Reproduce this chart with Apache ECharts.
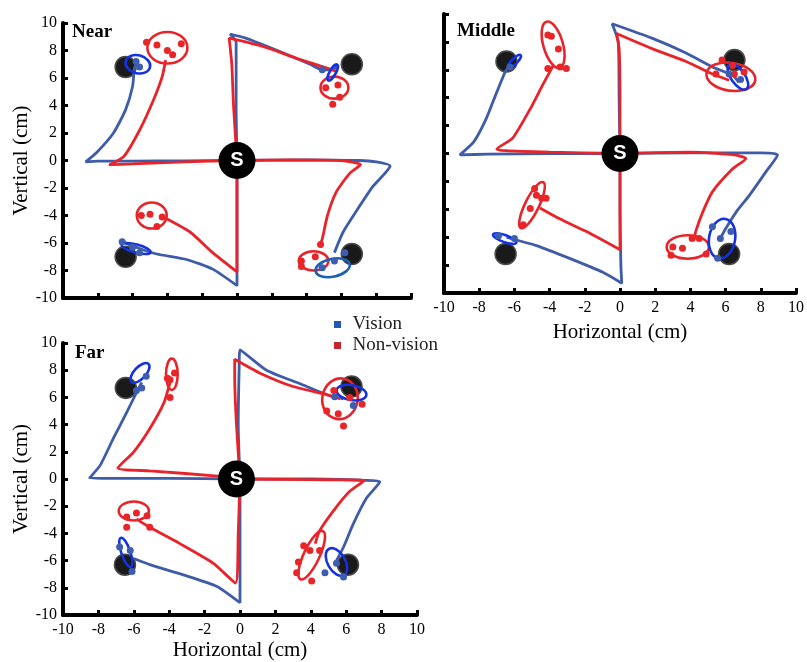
<!DOCTYPE html>
<html><head><meta charset="utf-8">
<script src="https://cdn.jsdelivr.net/npm/echarts@6/dist/echarts.min.js"></script>
<style>html,body{margin:0;padding:0;background:#fff}#c{width:807px;height:662px}</style>
</head><body><div id="c"></div>
<script>
// ---------- DATA (cm) ----------
const panelNames = ['Near', 'Middle', 'Far'];
const axisTicks = [-10, -8, -6, -4, -2, 0, 2, 4, 6, 8, 10];
const legendNames = ['Vision', 'Non-vision'];

// Near
const nearVisionPaths = [
  [[0,0],[-3,-0.02],[-6,-0.05],[-8.0,-0.05],[-8.7,-0.1],[-8.05,0.6],[-7.1,2.0],[-6.4,3.7],[-6.0,5.4],[-5.9,6.7],[-5.8,7.0]],
  [[0,0],[-0.05,4],[-0.05,8.6],[-0.4,9.2],[0.5,8.9],[2.5,7.9],[4.2,7.0],[4.9,6.6],[5.5,6.6],[5.8,6.95]],
  [[0,0],[4,0.05],[7,0],[8.0,-0.1],[8.8,-0.4],[7.8,-1.9],[6.9,-3.6],[6.1,-5.2],[5.6,-6.7]],
  [[0,0],[0,-4],[0,-7],[0,-9.1],[-1.4,-7.9],[-2.9,-7.2],[-4.6,-6.8],[-5.6,-6.4],[-6.6,-5.9]]
];
const nearNonVisionPaths = [
  [[0,0],[-3,-0.1],[-6,-0.25],[-7.3,-0.3],[-6.5,0.3],[-5.6,2.2],[-4.8,4.4],[-4.3,6.1],[-4.1,7.3]],
  [[0,0],[-0.2,4],[-0.3,7],[-0.45,8.9],[1.5,8.3],[3.5,7.4],[5.7,6.5]],
  [[0,0],[3,0.05],[6,0.0],[7.1,-0.3],[6.5,-0.9],[5.7,-2.3],[5.2,-4.0],[4.9,-5.7],[4.8,-6.1]],
  [[0,0],[0,-4],[0,-8.1],[-1.4,-6.7],[-2.7,-5.2],[-4.4,-4.0]]
];
// ellipse: [cx, cy, rx, ry, angle(deg)]
const nearVisionEllipses = [[-5.7,7.0,0.72,0.65,-15],[5.5,6.4,0.52,0.22,60],[5.5,-7.8,1.0,0.65,12],[-5.8,-6.4,0.86,0.3,-15]];
const nearNonVisionEllipses = [[-4.0,8.2,1.15,1.15,0],[5.6,5.3,0.8,0.8,0],[4.4,-7.3,0.85,0.7,0],[-4.9,-4.0,0.86,0.95,0]];
const nearVisionDots = [[-5.6,6.8],[-5.8,7.2],[4.9,6.6],[5.6,-7.3],[4.9,-7.8],[6.2,-6.7],[-5.6,-6.7],[-6.6,-5.9],[-6.0,-6.3]];
const nearNonVisionDots = [[-5.2,8.6],[-4.6,8.4],[-3.2,8.5],[-3.7,7.7],[-4.0,8.0],[5.8,5.5],[5.9,4.6],[5.5,4.1],[5.1,5.3],[4.8,-6.1],[4.5,-7.0],[3.7,-7.7],[3.7,-7.3],[-5.0,-3.9],[-5.5,-4.0],[-4.3,-4.1],[-4.6,-4.8]];
const nearTargets = [[-6.4,6.8],[6.6,7.0],[6.6,-6.8],[-6.4,-7.0]];
const nearStart = [[0,0]];

// Middle
const middleVisionPaths = [
  [[0,0],[-4,0],[-7.5,-0.05],[-9.1,-0.1],[-8.3,0.85],[-7.6,2.5],[-7.0,4.4],[-6.5,5.9],[-6.25,6.3]],
  [[0,0],[-0.05,4],[-0.1,8],[-0.45,9.3],[1.85,8.25],[3.75,7.2],[5.25,6.2],[6.4,5.6],[6.75,5.1]],
  [[0,0],[4,0.05],[8,0.05],[8.95,-0.1],[8.3,-1.3],[7.35,-3.0],[6.6,-4.2],[6.0,-5.4],[5.7,-6.1]],
  [[0,0],[0,-4],[0.05,-8],[0.1,-9.3],[-1.0,-8.5],[-2.9,-7.5],[-4.75,-6.6],[-5.9,-6.2],[-6.45,-6.0]]
];
const middleNonVisionPaths = [
  [[0,0],[-4,0.1],[-6.5,0.2],[-7.0,0.3],[-6.1,1.1],[-5.1,3.2],[-4.4,4.9],[-3.8,6.3]],
  [[0,0],[0,4],[-0.05,7.5],[-0.2,8.6],[1.85,7.5],[3.75,6.6],[5.25,5.7],[6.2,5.25]],
  [[0,0],[4,0.1],[6.5,-0.1],[7.15,-0.35],[6.4,-1.1],[5.25,-2.75],[4.7,-4.2],[4.3,-5.6],[4.2,-6.2]],
  [[0,0],[0,-4],[0,-6.9],[-1.9,-5.6],[-3.4,-4.7],[-4.55,-3.9]]
];
const middleVisionEllipses = [[-6.0,6.6,0.5,0.2,45],[6.7,5.5,0.85,0.5,-55],[5.8,-6.1,0.74,1.43,-10],[-6.55,-6.1,0.7,0.25,-20]];
const middleNonVisionEllipses = [[-3.8,7.8,1.36,0.7,-74],[6.3,5.5,1.4,1.0,-8],[3.85,-6.7,1.2,0.84,0],[-5.0,-3.7,1.45,0.5,64]];
const middleVisionDots = [[-6.25,6.2],[6.85,5.3],[6.2,5.7],[5.7,-6.1],[6.3,-5.6],[5.25,-5.25],[5.55,-7.5],[-6.0,-6.1],[-6.9,-5.9]];
const middleNonVisionDots = [[-4.1,8.5],[-3.9,8.4],[-3.5,7.5],[-3.05,6.1],[-4.1,6.1],[-3.4,6.2],[5.45,5.7],[5.8,6.7],[6.5,5.7],[7.05,5.85],[6.4,6.3],[3.55,-6.8],[4.1,-6.1],[4.5,-6.1],[3.0,-6.7],[2.9,-7.3],[4.9,-7.2],[-4.75,-3.0],[-4.45,-3.2],[-4.2,-3.2],[-5.1,-3.95],[-5.5,-5.1],[-4.85,-2.5]];
const middleTargets = [[-6.45,6.6],[6.5,6.7],[6.2,-7.2],[-6.5,-7.2]];
const middleStart = [[0,0]];

// Far
const farVisionPaths = [
  [[0,0],[-4,0.05],[-7.5,0.05],[-8.5,0.07],[-7.9,1.0],[-7.15,3.0],[-6.4,4.9],[-5.85,6.35],[-5.55,7.1]],
  [[0,0],[-0.1,4],[-0.05,8],[0,9.5],[1.5,8.0],[3.4,7.0],[5.1,6.1],[5.85,5.9]],
  [[0,0],[4,0],[7,-0.1],[7.9,-0.2],[7.15,-1.4],[6.4,-3.3],[5.85,-5.0],[5.45,-6.0]],
  [[0,0],[0,-4],[0,-8],[0,-9.1],[-1.3,-7.9],[-3.2,-7.05],[-5.1,-6.3],[-6.0,-5.85]]
];
const farNonVisionPaths = [
  [[0,0],[-1.1,0.2],[-5.1,0.6],[-6.9,0.8],[-6.0,2.0],[-5.1,3.7],[-4.3,5.6],[-3.95,7.1]],
  [[0,0],[-0.2,4],[-0.3,7.5],[-0.3,8.8],[1.1,7.8],[3.0,6.8],[4.9,6.2],[5.65,5.9]],
  [[0,0],[4,-0.05],[7.05,-0.1],[6.2,-0.9],[5.3,-2.3],[4.5,-3.8],[4.25,-4.75]],
  [[0,0],[-0.1,-4],[-0.25,-7.65],[-1.5,-6.2],[-3.4,-4.75],[-5.1,-3.55],[-5.85,-2.95]]
];
const farVisionEllipses = [[-5.65,7.8,0.7,0.43,47],[6.3,6.35,0.85,0.55,-10],[5.45,-6.1,0.85,0.65,-60],[-6.45,-5.4,0.87,0.33,-71]];
const farNonVisionEllipses = [[-3.85,7.7,0.33,1.15,0],[5.65,5.9,1.0,1.5,-10],[4.05,-5.6,1.5,0.58,65],[-6.0,-2.35,0.85,0.7,0]];
const farVisionDots = [[-5.3,7.55],[-5.85,6.5],[-5.55,6.7],[5.35,6.05],[6.4,5.4],[4.8,-6.9],[5.85,-7.2],[5.45,-6.2],[-6.8,-5.0],[-6.1,-6.8],[-6.2,-5.25]];
const farNonVisionDots = [[-3.95,7.3],[-4.1,7.4],[-3.7,7.8],[-3.95,6.0],[4.9,5.0],[5.55,4.8],[5.85,3.9],[6.9,5.5],[6.2,6.0],[5.3,6.5],[3.95,-5.25],[4.5,-5.25],[3.6,-4.9],[3.3,-6.1],[3.2,-6.9],[4.05,-7.5],[-6.4,-2.8],[-5.85,-2.5],[-5.25,-2.7],[-6.4,-3.55],[-5.1,-3.55]];
const farTargets = [[-6.45,6.7],[6.3,6.8],[6.1,-6.3],[-6.5,-6.3]];
const farStart = [[-0.2,0]];

// ---------- STYLE / LAYOUT ----------
const SERIF = "'Liberation Serif','Times New Roman',serif";
const BLUE_LINE = '#3f5ca9', RED_LINE = '#e8242a';
const BLUE_ELL = '#1432e0', BLUE_ELL_ALT = '#1b60b2', RED_ELL = '#e8242a';
const BLUE_DOT = '#3d5db0', RED_DOT = '#e8262a';

const panels = [
  {vp: nearVisionPaths, np: nearNonVisionPaths, ve: nearVisionEllipses, ne: nearNonVisionEllipses, vd: nearVisionDots, nd: nearNonVisionDots, t: nearTargets, s: nearStart},
  {vp: middleVisionPaths, np: middleNonVisionPaths, ve: middleVisionEllipses, ne: middleNonVisionEllipses, vd: middleVisionDots, nd: middleNonVisionDots, t: middleTargets, s: middleStart},
  {vp: farVisionPaths, np: farNonVisionPaths, ve: farVisionEllipses, ne: farNonVisionEllipses, vd: farVisionDots, nd: farNonVisionDots, t: farTargets, s: farStart}
];

const grids = [
  {left: 63, top: 23, width: 348, height: 275},
  {left: 444, top: 14, width: 353, height: 279},
  {left: 63, top: 343, width: 354, height: 274}
];
const showX = [false, true, true];
const showY = [true, false, true];
const xNameGap = [0, 29, 25];

function axisBase(gi) {
  return {
    type: 'value', gridIndex: gi, min: axisTicks[0], max: axisTicks[axisTicks.length - 1], interval: 2,
    axisLine: {show: true, onZero: false, lineStyle: {color: '#000', width: 4}},
    axisTick: {show: true, inside: true, length: 5, lineStyle: {color: '#000', width: 3}},
    splitLine: {show: false},
    axisLabel: {fontFamily: SERIF, fontSize: 16, color: '#000', margin: 7, showMinLabel: true, showMaxLabel: true},
    nameLocation: 'middle',
    nameTextStyle: {fontFamily: SERIF, fontSize: 21, color: '#000'}
  };
}

const xAxes = [], yAxes = [];
grids.forEach((g, gi) => {
  const x = axisBase(gi);
  x.axisLabel.show = showX[gi];
  if (showX[gi]) { x.name = 'Horizontal (cm)'; x.nameGap = xNameGap[gi]; }
  xAxes.push(x);
  const y = axisBase(gi);
  y.axisLabel.show = showY[gi];
  y.axisLabel.margin = 6;
  if (showY[gi]) { y.name = 'Vertical (cm)'; y.nameGap = 30; }
  yAxes.push(y);
});

function ellipseRenderer(color, altIndex, altColor) {
  return function (params, api) {
    const c = api.coord([api.value(0), api.value(1)]);
    const s = api.size([api.value(2), api.value(3)]);
    const col = (params.dataIndex === altIndex) ? altColor : color;
    return {
      type: 'ellipse', x: c[0], y: c[1], rotation: api.value(4) * Math.PI / 180,
      shape: {cx: 0, cy: 0, rx: s[0], ry: s[1]},
      style: {fill: 'none', stroke: col, lineWidth: 2.6}
    };
  };
}

const series = [];
panels.forEach((P, gi) => {
  const ax = {xAxisIndex: gi, yAxisIndex: gi};
  series.push(Object.assign({type: 'scatter', name: 'target', data: P.t, symbolSize: 21, silent: true, z: 1,
    itemStyle: {color: '#1a1a1a', borderColor: '#4a4a4a', borderWidth: 1.5, opacity: 1}}, ax));
  P.vp.forEach(p => series.push(Object.assign({type: 'line', name: legendNames[0], data: p, symbol: 'none', smooth: 0.2, silent: true, z: 2,
    lineStyle: {color: BLUE_LINE, width: 2.8}, itemStyle: {color: BLUE_LINE}}, ax)));
  P.np.forEach(p => series.push(Object.assign({type: 'line', name: legendNames[1], data: p, symbol: 'none', smooth: 0.2, silent: true, z: 2,
    lineStyle: {color: RED_LINE, width: 2.8}, itemStyle: {color: RED_LINE}}, ax)));
  series.push(Object.assign({type: 'custom', name: legendNames[1], data: P.ne, silent: true, z: 3,
    renderItem: ellipseRenderer(RED_ELL, -1, RED_ELL), itemStyle: {color: RED_ELL}}, ax));
  series.push(Object.assign({type: 'custom', name: legendNames[0], data: P.ve, silent: true, z: 3,
    renderItem: ellipseRenderer(BLUE_ELL, gi === 0 ? 2 : -1, BLUE_ELL_ALT), itemStyle: {color: BLUE_ELL}}, ax));
  series.push(Object.assign({type: 'scatter', name: legendNames[1], data: P.nd, symbolSize: 7, silent: true, z: 4,
    itemStyle: {color: RED_DOT, opacity: 1}}, ax));
  series.push(Object.assign({type: 'scatter', name: legendNames[0], data: P.vd, symbolSize: 7, silent: true, z: 4,
    itemStyle: {color: BLUE_DOT, opacity: 1}}, ax));
  series.push(Object.assign({type: 'scatter', name: 'start', data: P.s, symbolSize: 37, silent: true, z: 6,
    itemStyle: {color: '#000', opacity: 1},
    label: {show: true, position: 'inside', formatter: 'S', color: '#fff', fontSize: 20, fontWeight: 'bold', fontFamily: "'Liberation Sans',Arial,sans-serif"}}, ax));
});

const chart = echarts.init(document.getElementById('c'), null, {renderer: 'canvas'});
chart.setOption({
  animation: false,
  backgroundColor: '#fff',
  grid: grids,
  xAxis: xAxes,
  yAxis: yAxes,
  title: [
    {text: panelNames[0], left: 72, top: 23, padding: 0, textStyle: {fontFamily: SERIF, fontSize: 19, fontWeight: 'bold', color: '#000'}},
    {text: panelNames[1], left: 457, top: 22, padding: 0, textStyle: {fontFamily: SERIF, fontSize: 19, fontWeight: 'bold', color: '#000'}},
    {text: panelNames[2], left: 75, top: 344, padding: 0, textStyle: {fontFamily: SERIF, fontSize: 19, fontWeight: 'bold', color: '#000'}}
  ],
  legend: {
    orient: 'vertical', left: 334, top: 315, padding: 0, itemGap: 2,
    itemWidth: 20, itemHeight: 7, symbolKeepAspect: true, selectedMode: false,
    textStyle: {fontFamily: SERIF, fontSize: 19, color: '#222'},
    data: [
      {name: legendNames[0], icon: 'path://M0 0H7V7H0Z', itemStyle: {color: '#1f5cb0'}},
      {name: legendNames[1], icon: 'path://M0 0H7V7H0Z', itemStyle: {color: '#c3262e'}}
    ]
  },
  series: series
});
</script></body></html>
